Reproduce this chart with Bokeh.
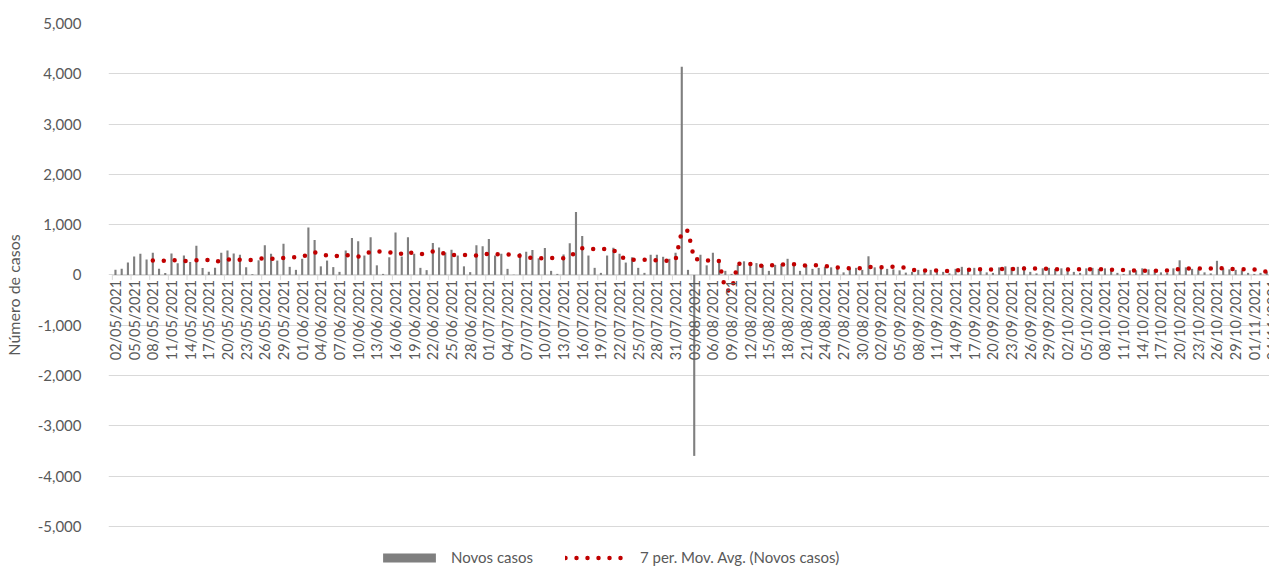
import pandas as pd
from math import pi
from bokeh.plotting import figure
from bokeh.models import (ColumnDataSource, Range1d, Legend, LegendItem, FixedTicker,
                          NumeralTickFormatter)
from bokeh.core.properties import value
from bokeh.embed import file_html
from bokeh.resources import INLINE

# ---------------- data ----------------
start_date = "2021-05-02"
novos_casos = [
    100, 120, 245, 365, 420, 305, 440, 120, 40, 425,
    230, 385, 255, 580, 135, 60, 140, 440, 485, 425,
    400, 150, 15, 290, 590, 420, 285, 620, 160, 100,
    320, 945, 695, 170, 285, 155, 60,
    485, 735, 670, 385, 750, 190, 20, 350, 845, 365,
    750, 420, 140, 95, 635, 545, 445, 500, 385, 170,
    55, 590, 570, 715, 385, 420, 120, 5, 430, 460,
    495, 330, 535, 80, 20, 405, 630, 1250,
    775, 385, 140, 40, 385, 540, 420, 245, 350, 140,
    40, 400, 400, 360, 320, 440, 4140, 100, -3600, 400,
    190, 440, 270, 80, 20,
    200, 270, 250, 235, 195, 80, 200, 220, 320, 220, 80, 200,
    120, 140, 160, 150, 170, 50, 130, 140, 100,
    370, 150, 130, 120, 110, 90, 45,
    60, 100, 90, 100, 110, 60, 30,
    120, 160, 130, 140, 130, 50, 40, 150, 170, 150,
    160, 170, 60, 30, 130, 140, 120, 130, 150, 60,
    40, 130, 140, 120, 130,
    100, 40, 20, 90, 90, 130, 110, 100, 50, 40, 130,
    290, 150, 120, 110, 50, 30, 280, 130, 110, 100,
    90, 40, 20, 40, 60, 50, 40, 30,
]
y_ticks = [-5000, -4000, -3000, -2000, -1000, 0, 1000, 2000, 3000, 4000, 5000]
label_step = 3
series_names = ["Novos casos", "7 per. Mov. Avg. (Novos casos)"]
ma_window = 7

# ---------------- derived ----------------
n = len(novos_casos)
idx = list(range(n))
dates = pd.date_range(start_date, periods=n, freq="D")
ma = pd.Series(novos_casos, dtype=float).rolling(ma_window).mean()

bar_src = ColumnDataSource(dict(x=idx, top=novos_casos))
ma_src = ColumnDataSource(dict(x=idx[ma_window - 1:], y=list(ma[ma_window - 1:])))
lab_idx = list(range(0, n, label_step))
lab_src = ColumnDataSource(dict(
    x=lab_idx,
    y=[0] * len(lab_idx),
    text=[dates[i].strftime("%d/%m/%Y") for i in lab_idx],
))
tick_src = ColumnDataSource(dict(x=[i - 0.5 for i in lab_idx]))

FONT = "Lato"
TXT = "#595959"
X0, X1 = -1.12, 185.44

p = figure(width=1269, height=566, output_backend="svg", toolbar_location=None,
           x_range=Range1d(X0, X1), y_range=Range1d(-5800, 5000),
           x_axis_location=None,
           min_border_left=103, min_border_right=0, min_border_top=23,
           min_border_bottom=0)
p.outline_line_color = None
p.background_fill_color = "white"

p.xgrid.visible = False
p.ygrid.ticker = FixedTicker(ticks=y_ticks)
p.ygrid.grid_line_color = "#d9d9d9"
p.ygrid.grid_line_width = 1
p.ygrid.bounds = (-0.5, X1)

ya = p.yaxis[0]
ya.ticker = FixedTicker(ticks=y_ticks)
ya.formatter = NumeralTickFormatter(format="0,0")
ya.axis_line_color = None
ya.major_tick_line_color = None
ya.minor_tick_line_color = None
ya.major_tick_out = 0
ya.major_tick_in = 0
ya.minor_tick_out = 0
ya.major_label_standoff = 27
ya.major_label_text_font = FONT
ya.major_label_text_font_size = "15px"
ya.major_label_text_color = TXT
ya.axis_label = "Número de casos"
ya.axis_label_text_font = FONT
ya.axis_label_text_font_size = "16px"
ya.axis_label_text_font_style = "normal"
ya.axis_label_text_color = TXT
ya.axis_label_standoff = 12

# category axis drawn at zero
p.segment(x0=-0.5, y0=0, x1=X1, y1=0, line_color="#d9d9d9", line_width=1.5)
p.segment(x0="x", y0=0, x1="x", y1=-100, source=tick_src, line_color="#d9d9d9", line_width=1)

bars = p.vbar(x="x", top="top", bottom=0, width=0.34, source=bar_src,
              fill_color="#7f7f7f", line_color=None)

ma_line = p.line(x="x", y="y", source=ma_src, line_color="#c00000", line_width=4.5,
                 line_dash="0 11", line_cap="round")

p.text(x="x", y="y", text="text", source=lab_src, angle=pi / 2,
       text_align="right", text_baseline="middle", y_offset=5,
       text_font=value(FONT), text_font_size="14.5px", text_color=TXT)

legend = Legend(items=[LegendItem(label=series_names[0], renderers=[bars]),
                       LegendItem(label=series_names[1], renderers=[ma_line])],
                orientation="horizontal", location=(268, 0),
                glyph_width=66, glyph_height=11, label_height=16,
                label_standoff=9, spacing=32, padding=0, margin=0,
                border_line_color=None, background_fill_alpha=0,
                label_text_font=FONT, label_text_font_size="15px",
                label_text_color=TXT)
p.add_layout(legend, "center")

open("out.html", "w").write(file_html(p, INLINE))
